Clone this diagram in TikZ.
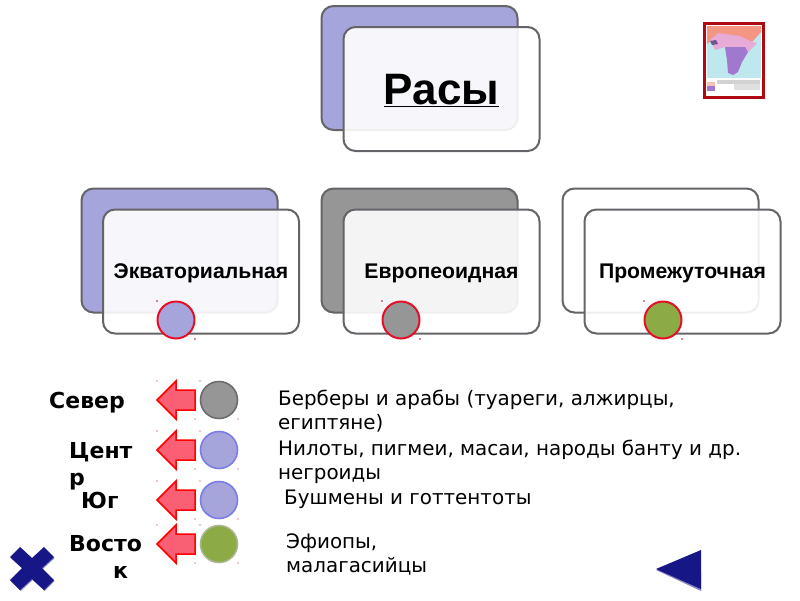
\documentclass[tikz,border=0pt]{standalone}
\usepackage{fontspec}
\setmainfont{DejaVu Sans}
\newfontfamily\liberation{Liberation Sans}
\usepackage{tikz}
\definecolor{boxline}{RGB}{100,100,105}
\definecolor{raceblue}{RGB}{165,165,220}
\definecolor{racegrey}{RGB}{150,150,150}
\definecolor{racegreen}{RGB}{140,170,70}
\definecolor{navyshape}{RGB}{22,22,135}
\definecolor{navyshadow}{RGB}{130,130,190}
\definecolor{speck}{RGB}{170,20,40}
\definecolor{markred}{RGB}{228,16,40}
\definecolor{arrowfill}{RGB}{250,95,115}
\definecolor{mapsea}{RGB}{190,232,238}
\definecolor{mapnorth}{RGB}{245,150,130}
\definecolor{mappink}{RGB}{232,170,215}
\definecolor{mapviolet}{RGB}{160,120,205}
\definecolor{mapframe}{RGB}{175,10,20}
\tikzset{
  backbox/.style={draw=boxline, line width=2pt, rounded corners=12pt, minimum width=196pt, minimum height=124pt, inner sep=0pt},
  frontbox/.style={draw=boxline, line width=2pt, rounded corners=12pt, fill=white, fill opacity=0.9, text opacity=1, minimum width=196pt, minimum height=124pt, inner sep=0pt},
  racelabel/.style={font=\liberation\bfseries\fontsize{21.2}{24}\selectfont, inner sep=0pt},
  marker/.style={circle, draw=markred, line width=2pt, minimum size=37pt, inner sep=0pt},
  dot/.style={circle, line width=1.6pt, minimum size=37pt, inner sep=0pt},
  sidelabel/.style={font=\bfseries\fontsize{22}{27}\selectfont, anchor=north west, align=left, inner sep=0pt},
  infotext/.style={font=\fontsize{19.9}{24}\selectfont, anchor=north west, align=left, inner sep=0pt},
  larrow/.style={draw=red, line width=1.5pt, fill=arrowfill, line join=miter},
}
\begin{document}
\begin{tikzpicture}[x=1pt,y=-1pt]
\useasboundingbox (0,0) rectangle (800,600);
% top box
\node[backbox, fill=raceblue] (raceback) at (419.5,68) {};
\node[frontbox] (racefront) at (441.5,89) {};
\node[font=\liberation\bfseries\fontsize{44}{50}\selectfont, inner sep=0pt] (racetitle) at (441.5,90.5) {\underline{Расы}};
% three groups
\node[backbox, fill=raceblue] (eqback) at (179.5,250.5) {};
\node[frontbox] (eqfront) at (201,271.5) {};
\node[racelabel] (eqlabel) at (201,273) {Экваториальная};
\node[backbox, fill=racegrey] (euback) at (419.5,250.5) {};
\node[frontbox] (eufront) at (441.5,271.5) {};
\node[racelabel] (eulabel) at (441.5,273) {Европеоидная};
\node[backbox] (miback) at (660.5,250.5) {};
\node[frontbox] (mifront) at (682.5,271.5) {};
\node[racelabel] (milabel) at (682.5,273) {Промежуточная};
\node[marker, fill=raceblue] (eqdot) at (176,320) {};
\node[marker, fill=racegrey] (eudot) at (401,320) {};
\node[marker, fill=racegreen] (midot) at (663,320) {};
% specks at the corners of the markers
\foreach \sx/\sy in {157/301,195/339,382/301,420/339,644/301,682/339}
  \fill[speck] (\sx,\sy) circle (0.9pt);
% map
\fill[white] (703,22) rectangle (765,98);
\fill[mapsea] (707,26) rectangle (761,78);
\fill[mapnorth] (707,26) -- (761,26) -- (761,32) -- (752,42) -- (740,38) -- (718,36) -- (707,44) -- cycle;
\fill[mappink] (710,40) -- (718,33) -- (740,36) -- (752,42) -- (757,43) -- (748,52) -- (742,47) -- (725,47) -- (715,50) -- cycle;
\fill[mapviolet] (725,47) -- (745,47) -- (748,52) -- (742,62) -- (738,72) -- (733,75) -- (728,73) -- (727,60) -- cycle;
\fill[mapviolet!70!black] (710,41) -- (716,40) -- (718,44) -- (712,45) -- cycle;
\fill[mapnorth!60!white] (707,82) rectangle (715,86);
\fill[mapviolet] (707,86) rectangle (715,91);
\fill[gray!35] (717,80) rectangle (760,84);
\fill[gray!25] (734,84) rectangle (760,90);
\draw[draw=mapframe, line width=3pt] (704.5,23.5) rectangle (763.5,97);
% rows below
\node[sidelabel] (north) at (49,392) {Север};
\node[sidelabel] (center) at (69,442) {Цент\\р};
\node[sidelabel] (south) at (81,492) {Юг};
\node[sidelabel] (east) at (69,535) {Восто\\\hspace*{44pt}к};
\foreach \ry in {400,450,500,544} {
  \draw[larrow] (157,\ry) -- (176,\ry-19) -- (176,\ry-10) -- (195,\ry-10) -- (195,\ry+10) -- (176,\ry+10) -- (176,\ry+19) -- cycle;
  \foreach \sx/\sy in {157/-19,200/-19,176/19,195/19,238/19}
    \fill[speck] (\sx,\ry+\sy) circle (0.6pt);
}
\node[dot, draw=gray!85!black, fill=racegrey] (rowa) at (219,400) {};
\node[dot, draw=raceblue!75!blue, fill=raceblue] (rowb) at (219,450) {};
\node[dot, draw=raceblue!75!blue, fill=raceblue] (rowc) at (219,500) {};
\node[dot, draw=racegreen!50!gray!70!white, fill=racegreen] (rowd) at (219,544) {};
\node[infotext] (ta) at (278,390) {Берберы и арабы (туареги, алжирцы,\\египтяне)};
\node[infotext] (tb) at (278,440) {Нилоты, пигмеи, масаи, народы банту и др.\\негроиды};
\node[infotext] (tc) at (284,490) {Бушмены и готтентоты};
\node[infotext] (td) at (286,534) {Эфиопы,\\малагасийцы};
% buttons
\fill[navyshadow] (656,570) -- (701,572) -- (701,591) -- cycle;
\fill[navyshape] (656,569) -- (701,550) -- (701,589) -- cycle;
\fill[navyshadow] (20.7,548) -- (32.7,559) -- (44.7,548) -- (54.7,558) -- (42.7,569) -- (54.7,581) -- (44.7,591) -- (32.7,580) -- (20.7,591) -- (10.7,581) -- (22.7,569) -- (10.7,558) -- cycle;
\fill[navyshape] (20,547) -- (32,558) -- (44,547) -- (54,557) -- (42,568) -- (54,580) -- (44,590) -- (32,579) -- (20,590) -- (10,580) -- (22,568) -- (10,557) -- cycle;
\end{tikzpicture}
\end{document}
